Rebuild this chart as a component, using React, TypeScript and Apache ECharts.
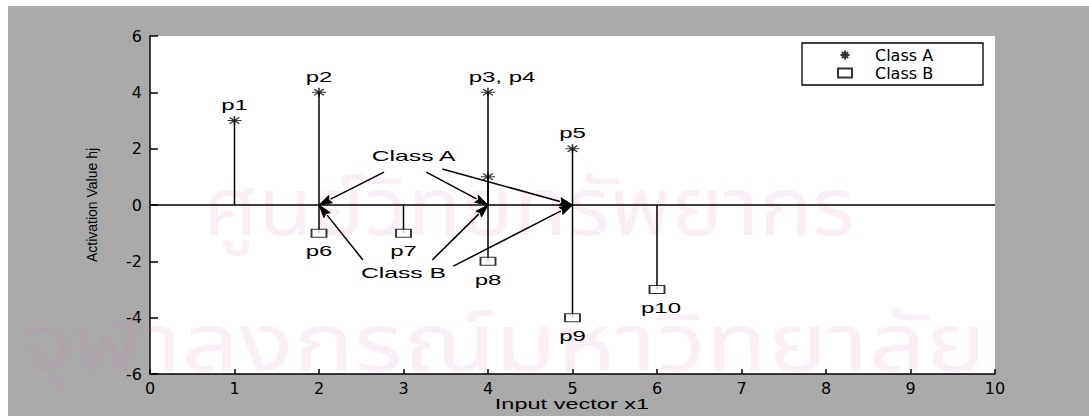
import React, { useEffect, useRef } from "react";
import * as echarts from "echarts";

// Stem plot data: input vector x1 vs activation value hj
const classAX = [1, 2, 4, 4, 5];
const classAY = [3, 4, 4, 1, 2];
const classALabels = ["p1", "p2", "p3, p4", "", "p5"];

const classBX = [2, 3, 4, 5, 6];
const classBY = [-1, -1, -2, -4, -3];
const classBLabels = ["p6", "p7", "p8", "p9", "p10"];

const xTicks = { min: 0, max: 10, interval: 1 };
const yTicks = { min: -6, max: 6, interval: 2 };

// Callout annotations (data coordinates)
const calloutTexts = ["Class A", "Class B"];
const calloutTextAt = [
  [3.12, 1.74],
  [3.0, -2.41],
];
const classAArrowFrom = [
  [2.77, 1.17],
  [3.27, 1.17],
  [3.46, 1.28],
];
const classBArrowFrom = [
  [2.52, -1.95],
  [3.34, -1.95],
  [3.59, -2.17],
];
const arrowTargetX = [2, 4, 5];

const ASTERISK = "path://M0 5L10 5M5 0L5 10M1.5 1.5L8.5 8.5M8.5 1.5L1.5 8.5";
const TEXT_FONT = "'Liberation Sans', Arial, sans-serif";
const TICK_FONT = "'DejaVu Sans', sans-serif";
const STRETCH = 1.6;
const WATERMARK_FONT = "'Noto Sans Thai', 'Noto Sans', sans-serif";
const WATERMARK_FILL = "rgba(215,120,185,0.12)";

// label shifts for crowded labels (pixels)
const labelShiftX: Record<string, number> = { "p3, p4": 14, p10: 4 };

export default function App() {
  const ref = useRef<HTMLDivElement>(null);

  useEffect(() => {
    if (!ref.current) return;
    const chart = echarts.init(ref.current, undefined, { renderer: "svg" });

    const allPoints = [
      ...classAX.map((x, i) => [x, classAY[i]]),
      ...classBX.map((x, i) => [x, classBY[i]]),
    ];
    const labelPoints: { x: number; y: number; name: string }[] = [];
    classAX.forEach((x, i) => {
      if (classALabels[i]) labelPoints.push({ x, y: classAY[i], name: classALabels[i] });
    });
    classBX.forEach((x, i) => {
      if (classBLabels[i]) labelPoints.push({ x, y: classBY[i], name: classBLabels[i] });
    });

    // each arrow: [fromX, fromY, toX, toY]
    const arrows = [
      ...classAArrowFrom.map((p, i) => [p[0], p[1], arrowTargetX[i], 0]),
      ...classBArrowFrom.map((p, i) => [p[0], p[1], arrowTargetX[i], 0]),
    ];

    chart.setOption({
      animation: false,
      backgroundColor: "#aaaaaa",
      graphic: [
        {
          type: "text",
          left: 195,
          top: 165,
          z: 1,
          silent: true,
          scaleX: 1.1,
          style: {
            text: "ศูนย์วิทยทรัพยากร",
            fontSize: 80,
            fontFamily: WATERMARK_FONT,
            fill: WATERMARK_FILL,
          },
        },
        {
          type: "text",
          left: 12,
          top: 300,
          z: 1,
          silent: true,
          scaleX: 1.26,
          style: {
            text: "จุฬาลงกรณ์มหาวิทยาลัย",
            fontSize: 80,
            fontFamily: WATERMARK_FONT,
            fill: WATERMARK_FILL,
          },
        },
        {
          type: "text",
          x: 564,
          y: 398,
          scaleX: 1.57,
          z: 3,
          style: {
            text: "Input vector x1",
            fontSize: 15,
            fontFamily: TEXT_FONT,
            fill: "#000",
            textAlign: "center",
            textVerticalAlign: "middle",
          },
        },
      ],
      grid: {
        left: 142,
        top: 30,
        right: 94,
        bottom: 42,
        show: true,
        backgroundColor: "#ffffff",
        borderWidth: 0,
      },
      legend: {
        orient: "vertical",
        right: 1081 - (983 - 8),
        top: 43 - 6,
        padding: [4, 0, 4, 35],
        itemWidth: 14,
        itemHeight: 9,
        itemGap: 2,
        backgroundColor: "#ffffff",
        borderColor: "#000",
        borderWidth: 1.3,
        borderRadius: 0,
        textStyle: {
          fontFamily: TICK_FONT,
          fontSize: 16,
          lineHeight: 14,
          color: "#000",
          width: 108,
          padding: [0, 0, 0, 18],
        },
        data: [
          { name: "Class A", icon: ASTERISK },
          { name: "Class B", icon: "rect" },
        ],
      },
      xAxis: {
        type: "value",
        min: xTicks.min,
        max: xTicks.max,
        interval: xTicks.interval,
        axisLine: { onZero: false, lineStyle: { color: "#000", width: 1.5 } },
        axisTick: { inside: true, length: 5, lineStyle: { color: "#000", width: 1.5 } },
        axisLabel: { margin: 6, fontFamily: TICK_FONT, fontSize: 16, color: "#000" },
        splitLine: { show: false },
      },
      yAxis: {
        type: "value",
        min: yTicks.min,
        max: yTicks.max,
        interval: yTicks.interval,
        name: "Activation Value hj",
        nameLocation: "middle",
        nameGap: 51,
        nameTextStyle: { fontFamily: TEXT_FONT, fontSize: 14, color: "#000" },
        axisLine: { onZero: false, lineStyle: { color: "#000", width: 1.5 } },
        axisTick: { inside: true, length: 8, lineStyle: { color: "#000", width: 1.5 } },
        axisLabel: { margin: 8, fontFamily: TICK_FONT, fontSize: 16, color: "#000" },
        splitLine: { show: false },
      },
      series: [
        {
          // stems from the zero baseline
          type: "custom",
          name: "stems",
          z: 3,
          data: allPoints,
          renderItem: (params: any, api: any) => {
            const x = api.value(0);
            const y = api.value(1);
            const p0 = api.coord([x, 0]);
            const p1 = api.coord([x, y]);
            return {
              type: "line",
              shape: { x1: p0[0], y1: p0[1], x2: p1[0], y2: p1[1] },
              style: { stroke: "#000", lineWidth: 1.5 },
            };
          },
          markLine: {
            silent: true,
            symbol: "none",
            label: { show: false },
            lineStyle: { color: "#000", width: 1.5, type: "solid" },
            data: [{ yAxis: 0 }],
          },
        },
        {
          type: "scatter",
          name: "Class A",
          z: 4,
          symbol: ASTERISK,
          symbolSize: [14, 9],
          itemStyle: { color: "#000", borderColor: "#000", borderWidth: 1.3 },
          data: classAX.map((x, i) => [x, classAY[i]]),
        },
        {
          type: "scatter",
          name: "Class B",
          z: 4,
          symbol: "rect",
          symbolSize: [15, 8],
          itemStyle: { color: "#fff", borderColor: "#000", borderWidth: 1.4 },
          data: classBX.map((x, i) => [x, classBY[i]]),
        },
        {
          // point names above/below the markers
          type: "custom",
          name: "point labels",
          z: 5,
          silent: true,
          data: labelPoints.map((p) => [p.x, p.y]),
          renderItem: (params: any, api: any) => {
            const lp = labelPoints[params.dataIndex];
            const c = api.coord([lp.x, lp.y]);
            const dy = lp.y >= 0 ? -16 : 18;
            return {
              type: "text",
              x: c[0] + (labelShiftX[lp.name] || 0),
              y: c[1] + dy,
              scaleX: STRETCH,
              style: {
                text: lp.name,
                fontSize: 15,
                fontFamily: TEXT_FONT,
                fill: "#000",
                textAlign: "center",
                textVerticalAlign: "middle",
              },
            };
          },
        },
        {
          // callout arrows pointing at the baseline
          type: "custom",
          name: "callout arrows",
          z: 5,
          silent: true,
          data: arrows,
          renderItem: (params: any, api: any) => {
            const a = api.coord([api.value(0), api.value(1)]);
            const b = api.coord([api.value(2), api.value(3)]);
            const dx = b[0] - a[0];
            const dy = b[1] - a[1];
            const len = Math.sqrt(dx * dx + dy * dy);
            const ux = dx / len;
            const uy = dy / len;
            const headLen = 13;
            const headHalf = 4;
            const bx = b[0] - ux * headLen;
            const by = b[1] - uy * headLen;
            return {
              type: "group",
              children: [
                {
                  type: "line",
                  shape: { x1: a[0], y1: a[1], x2: bx, y2: by },
                  style: { stroke: "#000", lineWidth: 1.5 },
                },
                {
                  type: "polygon",
                  shape: {
                    points: [
                      [b[0], b[1]],
                      [bx - uy * headHalf, by + ux * headHalf],
                      [bx + ux * 2, by + uy * 2],
                      [bx + uy * headHalf, by - ux * headHalf],
                    ],
                  },
                  style: { fill: "#000", stroke: "#000", lineWidth: 1 },
                },
              ],
            };
          },
        },
        {
          // callout texts
          type: "custom",
          name: "callouts",
          z: 5,
          silent: true,
          data: calloutTextAt,
          renderItem: (params: any, api: any) => {
            const c = api.coord(calloutTextAt[params.dataIndex]);
            return {
              type: "text",
              x: c[0],
              y: c[1],
              scaleX: 1.65,
              style: {
                text: calloutTexts[params.dataIndex],
                fontSize: 15,
                fontFamily: TEXT_FONT,
                fill: "#000",
                textAlign: "center",
                textVerticalAlign: "middle",
              },
            };
          },
        },
      ],
    });

    return () => chart.dispose();
  }, []);

  return (
    <div style={{ position: "fixed", left: 0, top: 0, width: 1089, height: 416, background: "#fff" }}>
      <div ref={ref} style={{ position: "absolute", left: 8, top: 6, width: 1081, height: 410 }} />
    </div>
  );
}
